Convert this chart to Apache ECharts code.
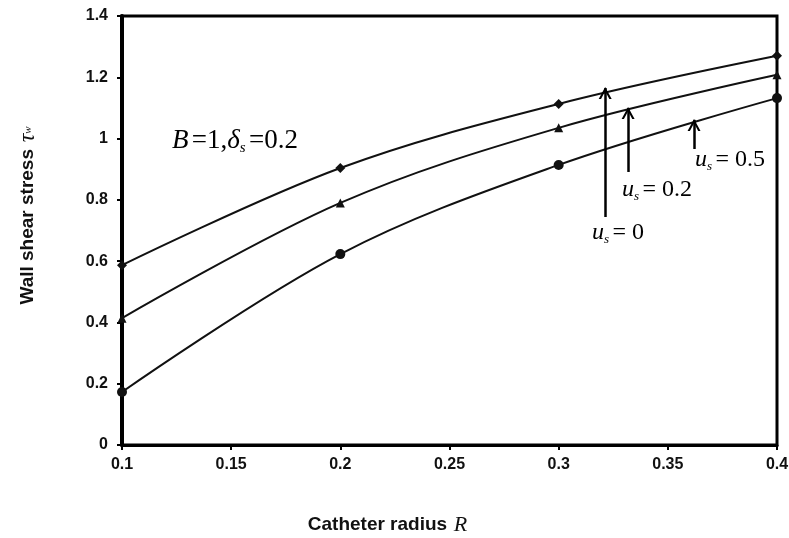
<!DOCTYPE html>
<html>
<head>
<meta charset="utf-8">
<script src="https://cdn.jsdelivr.net/npm/echarts@6/dist/echarts.min.js"></script>
<style>
  html, body { margin: 0; padding: 0; background: #fff; }
  #chart { width: 789px; height: 538px; }
</style>
</head>
<body>
<div id="chart"></div>
<script>
const radius = [0.1, 0.2, 0.3, 0.4];
const stressU0 = [0.587, 0.904, 1.113, 1.27];
const stressU02 = [0.414, 0.79, 1.035, 1.208];
const stressU05 = [0.173, 0.623, 0.914, 1.132];

// arrows: [x, yFrom, yTo] in data units
const arrowU0 = [0.3213, 0.744, 1.165];
const arrowU02 = [0.3318, 0.891, 1.10];
const arrowU05 = [0.362, 0.966, 1.061];

const chart = echarts.init(document.getElementById('chart'));

const serif = '"Liberation Serif", "DejaVu Serif", serif';
const sans = '"Liberation Sans", Arial, sans-serif';

const headPath = 'path://M0,10 L5,0 L10,10 L8.2,10 L5,3.6 L1.8,10 Z';

function arrowLine(a) {
    return [
        { coord: [a[0], a[1]], symbol: 'none' },
        { coord: [a[0], a[2]], symbol: headPath, symbolSize: [13, 12], symbolOffset: [0, 5] }
    ];
}

function pairs(ys) {
    return radius.map((x, i) => [x, ys[i]]);
}

function richMath(size) {
    return {
        i: { fontFamily: serif, fontStyle: 'italic', fontSize: size, color: '#111' },
        n: { fontFamily: serif, fontSize: size, color: '#111' },
        sub: { fontFamily: serif, fontStyle: 'italic', fontSize: Math.round(size * 0.55), color: '#111', verticalAlign: 'bottom', padding: [Math.round(size * 0.6), 0, 0, 0] }
    };
}

function mathText(left, top, text, size) {
    return {
        type: 'text',
        left: left,
        top: top,
        style: { text: text, rich: richMath(size) }
    };
}

function lineSeries(ys, symbol, size) {
    return {
        type: 'line',
        data: pairs(ys),
        smooth: 0.35,
        symbol: symbol,
        symbolSize: size,
        showAllSymbol: true,
        lineStyle: { color: '#111', width: 2 },
        itemStyle: { color: '#111' },
        z: 3
    };
}

const option = {
    animation: false,
    backgroundColor: '#fff',
    grid: {
        left: 122, right: 12, top: 16, bottom: 93,
        outerBoundsMode: 'none',
        containLabel: false,
        show: true, borderColor: '#000', borderWidth: 3
    },
    xAxis: {
        type: 'value',
        min: 0.1, max: 0.4, interval: 0.05,
        axisLine: { show: true, lineStyle: { color: '#000', width: 3 } },
        axisTick: { show: true, length: 5, lineStyle: { color: '#000', width: 2 } },
        axisLabel: {
            fontFamily: sans, fontWeight: 'bold', fontSize: 16, color: '#111', margin: 12,
            formatter: v => String(+v.toFixed(2))
        },
        splitLine: { show: false },
        name: '{t|Catheter radius}  {r|R}',
        nameLocation: 'middle',
        nameGap: 69,
        nameTextStyle: {
            rich: {
                t: { fontFamily: sans, fontWeight: 'bold', fontSize: 19, color: '#111' },
                r: { fontFamily: serif, fontStyle: 'italic', fontSize: 22, color: '#111' }
            },
            padding: [0, 124, 0, 0]
        }
    },
    yAxis: {
        type: 'value',
        min: 0, max: 1.4, interval: 0.2,
        axisLine: { show: true, lineStyle: { color: '#000', width: 4 } },
        axisTick: { show: true, length: 5, lineStyle: { color: '#000', width: 2 } },
        axisLabel: {
            fontFamily: sans, fontWeight: 'bold', fontSize: 16, color: '#111', margin: 14,
            formatter: v => String(+v.toFixed(1))
        },
        splitLine: { show: false },
        name: '{t|Wall shear stress}  {r|τ}{s|w}',
        nameLocation: 'middle',
        nameGap: 82,
        nameRotate: 90,
        nameTextStyle: {
            rich: {
                t: { fontFamily: sans, fontWeight: 'bold', fontSize: 19, color: '#111' },
                r: { fontFamily: serif, fontStyle: 'italic', fontSize: 24, color: '#111' },
                s: { fontFamily: serif, fontStyle: 'italic', fontSize: 11, color: '#111' }
            },
            padding: [0, 0, 0, 30]
        }
    },
    series: [
        lineSeries(stressU0, 'diamond', 10),
        lineSeries(stressU02, 'triangle', 9),
        Object.assign(lineSeries(stressU05, 'circle', 10), {
            markLine: {
                silent: true,
                animation: false,
                label: { show: false },
                lineStyle: { color: '#000', width: 2.5, type: 'solid' },
                data: [arrowLine(arrowU0), arrowLine(arrowU02), arrowLine(arrowU05)]
            }
        })
    ],
    graphic: [
        mathText(172, 127, '{i|B} {n|=1,}{i|δ}{sub|s} {n|=0.2}', 27),
        mathText(592, 221, '{i|u}{sub|s} {n|= 0}', 24),
        mathText(622, 178, '{i|u}{sub|s} {n|= 0.2}', 24),
        mathText(695, 148, '{i|u}{sub|s} {n|= 0.5}', 24)
    ]
};

chart.setOption(option);
</script>
</body>
</html>
